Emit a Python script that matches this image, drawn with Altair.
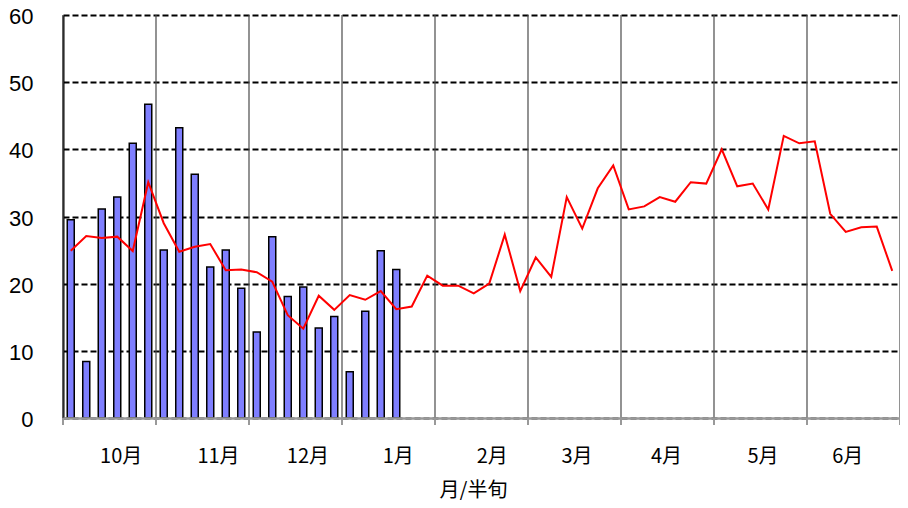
import altair as alt
import pandas as pd

# ---- data ----
months = ["10月", "11月", "12月", "1月", "2月", "3月", "4月", "5月", "6月"]
slots_per_month = 6  # 半旬 per month

bar_values = [29.5, 8.4, 31.1, 32.9, 40.9, 46.7,
              25.0, 43.2, 36.3, 22.5, 25.0, 19.3,
              12.8, 27.0, 18.1, 19.5, 13.4, 15.1,
              6.9, 15.9, 24.9, 22.1]

line_values = [24.9, 27.1, 26.8, 27.0, 24.85, 35.1,
               29.0, 24.75, 25.5, 25.9, 22.0, 22.1,
               21.7, 20.3, 15.3, 13.3, 18.2, 16.1,
               18.3, 17.6, 18.9, 16.2, 16.6, 21.2,
               19.7, 19.7, 18.55, 20.0, 27.3, 18.9,
               23.9, 21.0, 32.9, 28.2, 34.2, 37.6,
               31.05, 31.5, 32.9, 32.2, 35.1, 34.9,
               40.0, 34.5, 34.9, 31.05, 42.0, 40.9,
               41.2, 30.4, 27.7, 28.4, 28.5, 21.9]

y_ticks = [0, 10, 20, 30, 40, 50, 60]
note_text = "折線:平成20～令和元年産全作期間の平均値"

# ---- tables ----
n_slots = len(months) * slots_per_month
bars_df = pd.DataFrame({"pos": [i + 0.5 for i in range(len(bar_values))], "v": bar_values})
line_df = pd.DataFrame({"pos": [i + 0.5 for i in range(len(line_values))], "v": line_values})
bounds_df = pd.DataFrame({"b": [i * slots_per_month for i in range(len(months) + 1)]})

# month label placement (in slot units, as in the original)
label_pos = [3.72, 10.0, 15.77, 21.6, 27.66, 33.13, 38.9, 45.13, 50.6]
expr = ""
for p, m in zip(label_pos, months):
    expr += f"abs(datum.value - {p}) < 0.01 ? '{m}' : "
expr += "''"

W, H = 837, 403
xscale = alt.Scale(domain=[0, n_slots], nice=False, zero=False, padding=0)
yscale = alt.Scale(domain=[0, 60], nice=False, padding=0)

x_axis = alt.Axis(values=label_pos, labelExpr=expr, grid=False, ticks=False, tickSize=0,
                  domainColor="#999999", domainWidth=2.5,
                  labelFont="Noto Sans CJK JP", labelFontSize=20, labelColor="black",
                  labelPadding=38, labelBaseline="middle", labelAngle=0,
                  labelOverlap=False, labelFlush=False,
                  title="月/半旬", titleX=410, titleY=72, titleBaseline="middle",
                  titleAlign="center", titleFont="Noto Sans CJK JP", titleFontSize=20,
                  titleFontWeight="normal", titleColor="black", zindex=1)

y_axis = alt.Axis(values=y_ticks, grid=True, gridColor="black", gridDash=[6, 3], gridWidth=2,
                  ticks=False, tickSize=0, domainColor="black", domainWidth=2,
                  labelFont="Liberation Sans", labelFontSize=22, labelColor="black",
                  labelPadding=30, labelOffset=1.5, title=None)

month_lines = alt.Chart(bounds_df).mark_rule(color="#4a4a4a", strokeWidth=1.2).encode(
    x=alt.X("b:Q", scale=xscale, axis=x_axis),
    y=alt.value(0), y2=alt.value(H),
)

month_ticks = alt.Chart(bounds_df).mark_rule(color="#999999", strokeWidth=2).encode(
    x=alt.X("b:Q", scale=xscale),
    y=alt.value(H), y2=alt.value(H + 7),
)

bars = alt.Chart(bars_df).mark_bar(size=7, color="#7f7fff", stroke="black", strokeWidth=1.5).encode(
    x=alt.X("pos:Q", scale=xscale),
    y=alt.Y("v:Q", scale=yscale, axis=y_axis),
)

line = alt.Chart(line_df).mark_line(color="#ff0000", strokeWidth=2).encode(
    x=alt.X("pos:Q", scale=xscale),
    y=alt.Y("v:Q", scale=yscale),
)

note = alt.Chart(pd.DataFrame({"t": [note_text]})).mark_text(
    align="left", baseline="alphabetic", font="Noto Sans CJK JP", fontSize=22, color="black",
    limit=385, ellipsis=""
).encode(text="t:N", x=alt.value(445), y=alt.value(-11))

chart = alt.layer(month_lines, month_ticks, bars, line, note).properties(
    width=W, height=H,
    autosize=alt.AutoSizeParams(type="none"),
    padding={"left": 55, "top": 7, "right": 0, "bottom": 82},
    background="white",
).configure_view(stroke=None)

chart.save("out.html", embed_options={"renderer": "svg", "actions": False})
